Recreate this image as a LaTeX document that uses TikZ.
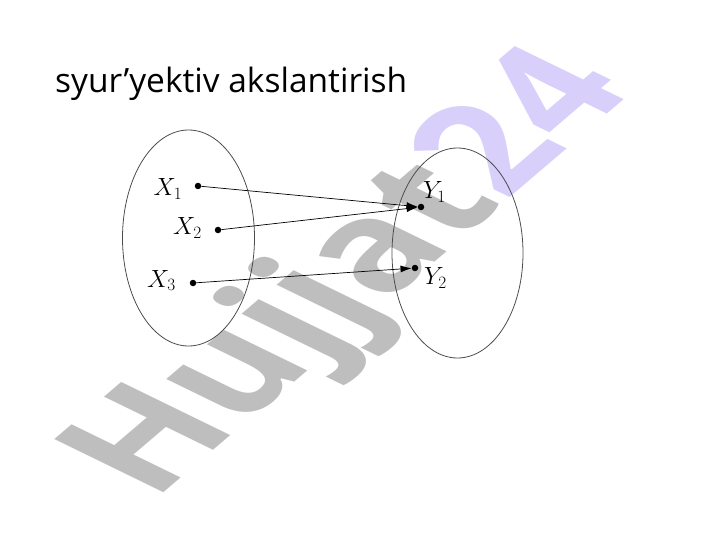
\documentclass[tikz,border=0pt]{standalone}
\usepackage{fontspec}
\setmainfont{Open Sans}
\usetikzlibrary{arrows.meta}
\definecolor{markgray}{RGB}{190,190,190}
\definecolor{marklilac}{RGB}{216,208,250}
\begin{document}
\begin{tikzpicture}[x=1pt,y=-1pt,
    dot/.style={circle,fill=black,inner sep=0pt,minimum size=6.5pt},
    setline/.style={draw=black!70,line width=0.8pt},
    mapto/.style={-{Latex[length=11pt,width=7pt]},line width=0.7pt},
    lbl/.style={font=\fontsize{24}{28}\selectfont,inner sep=0pt}]
    \useasboundingbox (0,0) rectangle (720,540);

    % Watermark behind the sets
    \begin{scope}[shift={(395,296)},cm={1.145,0.977,-1.528,0.745,(0,0)}]
        \node[transform shape,anchor=base,inner sep=0pt,font=\fontsize{100}{100}\selectfont\bfseries] (mark) {\textcolor{markgray}{Hujjat}\textcolor{marklilac}{24}};
    \end{scope}

    % Title
    \node[anchor=base west,inner sep=0pt,font=\fontsize{33.5}{40}\selectfont] (title) at (55,93) {syur’yektiv akslantirish};

    % Draw the two sets
    \draw[setline] (188.5,238) ellipse [x radius=66, y radius=108];
    \draw[setline] (457.5,253) ellipse [x radius=65.5, y radius=105];

    % Define elements x1, x2, x3 and y1, y2
    \node[dot] (x1) at (198,186) {};
    \node[dot] (x2) at (218,230) {};
    \node[dot] (x3) at (193,283) {};
    \node[dot] (y1) at (421,207) {};
    \node[dot] (y2) at (415,268) {};

    \node[lbl] (lx1) at (168,189) {$X_1$};
    \node[lbl] (lx2) at (187.5,228) {$X_2$};
    \node[lbl] (lx3) at (161.5,280.5) {$X_3$};
    \node[lbl] (ly1) at (434.5,192) {$Y_1$};
    \node[lbl] (ly2) at (435.5,278) {$Y_2$};

    % Draw the mapping
    \draw[mapto] (x1) -- (y1);
    \draw[mapto] (x2) -- (y1);
    \draw[mapto] (x3) -- (y2);
\end{tikzpicture}
\end{document}
